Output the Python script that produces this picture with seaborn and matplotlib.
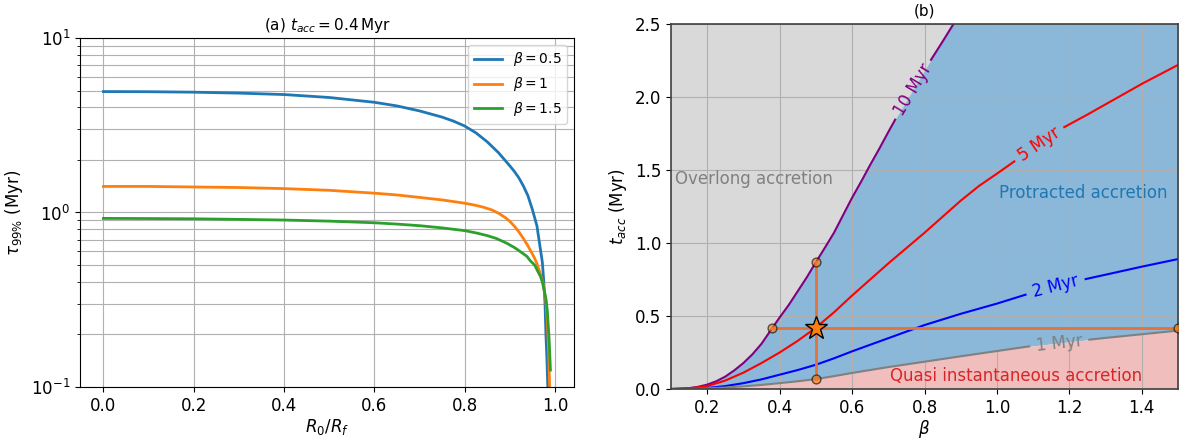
import numpy as np
import pandas as pd
import matplotlib
matplotlib.use("Agg")
import matplotlib.pyplot as plt
import seaborn as sns

# ---- panel (a): tau_99% vs R0/Rf, t_acc = 0.4 Myr ----
r_b05 = [0.0, 0.1, 0.2, 0.3, 0.4, 0.5, 0.6, 0.65, 0.7, 0.75, 0.775, 0.8, 0.825,
         0.85, 0.875, 0.9, 0.91, 0.92, 0.93, 0.94, 0.95, 0.96, 0.968, 0.972,
         0.975, 0.978, 0.98, 0.982, 0.985]
tau_b05 = [4.93, 4.92, 4.89, 4.83, 4.74, 4.56, 4.28, 4.08, 3.82, 3.52, 3.34,
           3.13, 2.86, 2.54, 2.20, 1.85, 1.72, 1.58, 1.42, 1.25, 1.04, 0.84,
           0.61, 0.52, 0.41, 0.30, 0.20, 0.15, 0.085]

r_b1 = [0.0, 0.1, 0.2, 0.3, 0.4, 0.5, 0.6, 0.65, 0.7, 0.75, 0.78, 0.8, 0.82,
        0.84, 0.86, 0.875, 0.89, 0.9, 0.91, 0.92, 0.93, 0.94, 0.945, 0.953,
        0.96, 0.967, 0.974, 0.98, 0.983, 0.986, 0.989]
tau_b1 = [1.41, 1.41, 1.40, 1.39, 1.37, 1.34, 1.29, 1.26, 1.22, 1.18, 1.15,
          1.13, 1.105, 1.075, 1.035, 0.99, 0.935, 0.89, 0.835, 0.775, 0.71,
          0.645, 0.61, 0.56, 0.51, 0.45, 0.39, 0.31, 0.24, 0.16, 0.085]

r_b15 = [0.0, 0.1, 0.2, 0.3, 0.4, 0.5, 0.6, 0.65, 0.7, 0.75, 0.8, 0.825, 0.85,
         0.87, 0.894, 0.91, 0.92, 0.938, 0.945, 0.955, 0.962, 0.968, 0.972,
         0.976, 0.98, 0.983, 0.987, 0.99]
tau_b15 = [0.925, 0.923, 0.92, 0.913, 0.905, 0.892, 0.873, 0.858, 0.84, 0.816,
           0.787, 0.764, 0.737, 0.71, 0.665, 0.63, 0.605, 0.56, 0.53, 0.50,
           0.46, 0.43, 0.40, 0.36, 0.32, 0.275, 0.19, 0.125]

labels_a = [r"$\beta = 0.5$", r"$\beta = 1$", r"$\beta = 1.5$"]

# ---- panel (b): iso-tau curves t_acc(beta) ----
beta_10 = [0.10, 0.125, 0.15, 0.175, 0.20, 0.225, 0.25, 0.275, 0.30, 0.325,
           0.35, 0.379, 0.40, 0.425, 0.45, 0.475, 0.50, 0.525, 0.55, 0.575,
           0.60, 0.625, 0.65, 0.675, 0.70, 0.719, 0.818, 0.85, 0.88, 0.92]
tacc_10 = [0.0, 0.002, 0.006, 0.015, 0.03, 0.053, 0.085, 0.128, 0.178, 0.238,
           0.31, 0.415, 0.49, 0.575, 0.67, 0.765, 0.868, 0.968, 1.07, 1.19,
           1.31, 1.42, 1.535, 1.645, 1.76, 1.845, 2.255, 2.38, 2.50, 2.66]

beta_5 = [0.10, 0.15, 0.20, 0.25, 0.30, 0.35, 0.40, 0.45, 0.50, 0.55, 0.60,
          0.65, 0.70, 0.75, 0.80, 0.85, 0.90, 0.95, 1.00, 1.048, 1.186, 1.25,
          1.30, 1.35, 1.40, 1.45, 1.50]
tacc_5 = [0.0, 0.004, 0.02, 0.058, 0.112, 0.178, 0.25, 0.33, 0.42, 0.525,
          0.64, 0.75, 0.86, 0.965, 1.07, 1.18, 1.29, 1.39, 1.475, 1.559,
          1.794, 1.88, 1.95, 2.02, 2.09, 2.155, 2.22]

beta_2 = [0.10, 0.15, 0.20, 0.25, 0.30, 0.35, 0.40, 0.45, 0.50, 0.55, 0.60,
          0.65, 0.70, 0.80, 0.90, 1.00, 1.079, 1.245, 1.30, 1.40, 1.50]
tacc_2 = [0.0, 0.002, 0.007, 0.02, 0.04, 0.066, 0.098, 0.13, 0.166, 0.21,
          0.258, 0.303, 0.348, 0.438, 0.515, 0.585, 0.646, 0.753, 0.783,
          0.838, 0.89]

beta_1 = [0.10, 0.15, 0.20, 0.25, 0.30, 0.35, 0.40, 0.45, 0.50, 0.55, 0.60,
          0.65, 0.70, 0.80, 0.90, 1.00, 1.089, 1.255, 1.30, 1.40, 1.50]
tacc_1 = [0.0, 0.002, 0.005, 0.01, 0.018, 0.028, 0.04, 0.053, 0.068, 0.088,
          0.11, 0.13, 0.15, 0.187, 0.224, 0.26, 0.292, 0.338, 0.35, 0.375, 0.40]

# label gaps on each curve (beta range with no line drawn)
gaps = {"10": (0.719, 0.818), "5": (1.048, 1.186), "2": (1.079, 1.245), "1": (1.089, 1.255)}

# reference case marked with the star
star_beta, star_tacc = 0.5, 0.415
hline_beta = [0.379, 1.5]
vline_tacc = [0.068, 0.868]

plt.rcParams["font.size"] = 12

fig = plt.figure(figsize=(11.88, 4.4), dpi=100)
ax1 = fig.add_axes([0.0673, 0.1205, 0.4158, 0.7932])
ax2 = fig.add_axes([0.5648, 0.1159, 0.4268, 0.8295])

# ---------------- panel (a) ----------------
for r, tau, lab, col in zip([r_b05, r_b1, r_b15], [tau_b05, tau_b1, tau_b15],
                            labels_a, ["C0", "C1", "C2"]):
    sns.lineplot(x=r, y=tau, ax=ax1, color=col, linewidth=2, label=lab)

ax1.set_yscale("log")
ax1.set_ylim(0.1, 10)
ax1.set_xlim(-0.052, 1.042)
ax1.set_xticks([0.0, 0.2, 0.4, 0.6, 0.8, 1.0])
ax1.grid(True, which="both", color="#b0b0b0", linewidth=0.8)
ax1.set_xlabel(r"$R_0/R_f$", fontsize=12, labelpad=2)
ax1.set_ylabel(r"$\tau_{99\%}$ (Myr)", fontsize=12)
ax1.set_title(r"(a) $t_{acc} = 0.4\,$Myr", fontsize=11)
ax1.tick_params(labelsize=12)
ax1.legend(loc="upper right", fontsize=10)

# ---------------- panel (b) ----------------
col_gray, col_blue, col_pink = "#d9d9d9", "#8bb8d8", "#f1bebe"
ax2.fill_between(beta_1, tacc_1, 2.5, color=col_blue, linewidth=0, zorder=0.5)
ax2.fill_between(beta_10, tacc_10, 2.5, color=col_gray, linewidth=0, zorder=0.6)
ax2.fill_between(beta_1, 0, tacc_1, color=col_pink, linewidth=0, zorder=0.6)

curves = [("10", beta_10, tacc_10, "purple"), ("5", beta_5, tacc_5, "red"),
          ("2", beta_2, tacc_2, "blue"), ("1", beta_1, tacc_1, "gray")]
for key, b, t, col in curves:
    b = np.asarray(b)
    t = np.asarray(t)
    lo, hi = gaps[key]
    m1 = b <= lo
    m2 = b >= hi
    ax2.plot(b[m1], t[m1], color=col, linewidth=1.5)
    ax2.plot(b[m2], t[m2], color=col, linewidth=1.5)

label_pos = {"10": (0.768, 2.05, 59), "5": (1.117, 1.678, 34.5),
             "2": (1.163, 0.70, 14.6), "1": (1.172, 0.315, 6.3)}
for key, b, t, col in curves:
    x, y, rot = label_pos[key]
    ax2.text(x, y, f"{key} Myr", color=col, fontsize=12, rotation=rot,
             ha="center", va="center", rotation_mode="anchor")

cross_col = "#e4713a"
ax2.plot(hline_beta, [star_tacc, star_tacc], color=cross_col, linewidth=2, zorder=3)
ax2.plot([star_beta, star_beta], vline_tacc, color=cross_col, linewidth=2, zorder=3)
ax2.scatter([hline_beta[0], hline_beta[1], star_beta, star_beta],
            [star_tacc, star_tacc, vline_tacc[0], vline_tacc[1]],
            s=40, color="C1", alpha=0.6, edgecolors="k", linewidths=1, zorder=4)
ax2.plot(star_beta, star_tacc, marker="*", markersize=17, color="C1",
         markeredgecolor="k", markeredgewidth=1, zorder=5)

ax2.text(0.11, 1.44, "Overlong accretion", color="gray", fontsize=12,
         ha="left", va="center")
ax2.text(1.237, 1.34, "Protracted accretion", color="C0", fontsize=12,
         ha="center", va="center")
ax2.text(1.053, 0.086, "Quasi instantaneous accretion", color="C3", fontsize=12,
         ha="center", va="center")

ax2.set_xlim(0.1, 1.5)
ax2.set_ylim(0, 2.5)
ax2.set_xticks([0.2, 0.4, 0.6, 0.8, 1.0, 1.2, 1.4])
ax2.set_yticks([0.0, 0.5, 1.0, 1.5, 2.0, 2.5])
ax2.grid(True, color="#b0b0b0", linewidth=0.8)
ax2.set_xlabel(r"$\beta$", fontsize=12, labelpad=1)
ax2.set_ylabel(r"$t_{acc}$ (Myr)", fontsize=12)
ax2.set_title("(b)", fontsize=11)
ax2.tick_params(labelsize=12)
for sp in ax2.spines.values():
    sp.set_color("#404040")
    sp.set_linewidth(1.2)

fig.savefig("out.png", dpi=100)
